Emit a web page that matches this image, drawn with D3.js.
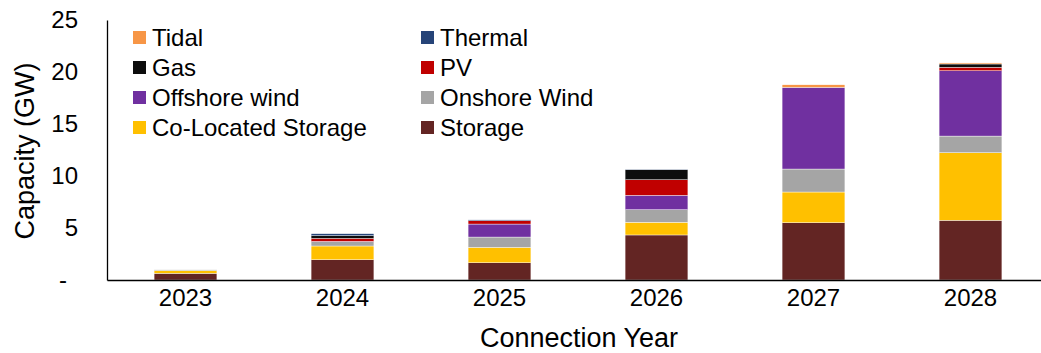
<!DOCTYPE html>
<html>
<head>
<meta charset="utf-8">
<script src="https://cdn.jsdelivr.net/npm/d3@7"></script>
<style>
  html, body { margin: 0; padding: 0; background: #fff; }
  svg { display: block; font-family: "Liberation Sans", Arial, sans-serif; }
</style>
</head>
<body>
<svg id="chart" width="1041" height="353"></svg>
<script>
// Connection years (x categories)
const years = ["2023", "2024", "2025", "2026", "2027", "2028"];

// Capacity by technology, GW per connection year (stacked bottom to top)
const storage        = [0.64, 1.95, 1.66, 4.33, 5.51, 5.74];
const coLocated      = [0.27, 1.32, 1.48, 1.22, 2.95, 6.50];
const onshoreWind    = [0.07, 0.41, 0.99, 1.21, 2.21, 1.60];
const offshoreWind   = [0.00, 0.03, 1.25, 1.38, 7.85, 6.28];
const pv             = [0.00, 0.29, 0.32, 1.50, 0.00, 0.33];
const gas            = [0.00, 0.26, 0.00, 0.96, 0.00, 0.32];
const thermal        = [0.00, 0.19, 0.08, 0.03, 0.00, 0.00];
const tidal          = [0.00, 0.00, 0.00, 0.00, 0.25, 0.10];

// Y-axis tick values and their labels (zero shown as a dash)
const yTicks = [0, 5, 10, 15, 20, 25];
const yTickLabels = ["-", "5", "10", "15", "20", "25"];

// Series in stacking order
const series = [
  { key: "Storage",            values: storage,      color: "#632523" },
  { key: "Co-Located Storage", values: coLocated,    color: "#FFC000" },
  { key: "Onshore Wind",       values: onshoreWind,  color: "#A5A5A5" },
  { key: "Offshore wind",      values: offshoreWind, color: "#7030A0" },
  { key: "PV",                 values: pv,           color: "#C00000" },
  { key: "Gas",                values: gas,          color: "#0D0D0D" },
  { key: "Thermal",            values: thermal,      color: "#264478" },
  { key: "Tidal",              values: tidal,        color: "#F79646" }
];

// Legend layout order (two columns, row by row)
const legendOrder = ["Tidal", "Thermal", "Gas", "PV", "Offshore wind", "Onshore Wind", "Co-Located Storage", "Storage"];

const svg = d3.select("#chart");
const plot = { left: 107, right: 1049, top: 20, bottom: 280 };

const rows = years.map((y, i) => {
  const r = { year: y };
  series.forEach(s => { r[s.key] = s.values[i]; });
  return r;
});

const stack = d3.stack().keys(series.map(s => s.key));
const stacked = stack(rows);
const colorOf = new Map(series.map(s => [s.key, s.color]));

const x = d3.scaleBand()
  .domain(years)
  .range([plot.left, plot.right])
  .paddingInner(0.6)
  .paddingOuter(0.3);

const y = d3.scaleLinear()
  .domain([0, 25])
  .range([plot.bottom, plot.top]);

// Stacked bars
svg.append("g")
  .selectAll("g")
  .data(stacked)
  .join("g")
  .attr("fill", d => colorOf.get(d.key))
  .selectAll("rect")
  .data(d => d)
  .join("rect")
  .attr("x", d => x(d.data.year))
  .attr("width", x.bandwidth())
  .attr("y", d => y(d[1]))
  .attr("height", d => Math.max(0, y(d[0]) - y(d[1])))
  .attr("stroke", "#ffffff")
  .attr("stroke-width", 0.4);

// Y axis
const yAxis = svg.append("g")
  .attr("transform", `translate(${plot.left},0)`)
  .call(d3.axisLeft(y).tickValues(yTicks).tickSize(0).tickPadding(29)
    .tickFormat((d, i) => yTickLabels[i]));
yAxis.select(".domain").attr("stroke", "#000").attr("stroke-width", 1.3);
yAxis.selectAll("text")
  .attr("font-size", 24)
  .attr("fill", "#000")
  .attr("font-family", "'Liberation Sans', Arial, sans-serif")
  .attr("dx", (d, i) => yTickLabels[i] === "-" ? -11 : 0);

// X axis
const xAxis = svg.append("g")
  .attr("transform", `translate(0,${plot.bottom})`)
  .call(d3.axisBottom(x).tickSize(0).tickPadding(9));
xAxis.select(".domain").attr("stroke", "#000").attr("stroke-width", 1.3);
xAxis.selectAll("text")
  .attr("font-size", 24)
  .attr("fill", "#000")
  .attr("font-family", "'Liberation Sans', Arial, sans-serif");

// Axis titles
svg.append("text")
  .attr("transform", `translate(34,${(plot.top + plot.bottom) / 2 + 1}) rotate(-90)`)
  .attr("text-anchor", "middle")
  .attr("font-size", 27)
  .attr("fill", "#000")
  .text("Capacity (GW)");

svg.append("text")
  .attr("x", 579)
  .attr("y", 347)
  .attr("text-anchor", "middle")
  .attr("font-size", 27)
  .attr("fill", "#000")
  .text("Connection Year");

// Legend
const legend = svg.append("g");
const colX = [133, 421];
legendOrder.forEach((key, i) => {
  const cx = colX[i % 2];
  const cy = 37.5 + Math.floor(i / 2) * 30;
  const g = legend.append("g").attr("transform", `translate(${cx},${cy})`);
  g.append("rect")
    .attr("x", 0).attr("y", -6.5)
    .attr("width", 13).attr("height", 13)
    .attr("fill", colorOf.get(key));
  g.append("text")
    .attr("x", 19).attr("y", 0)
    .attr("dy", "0.36em")
    .attr("font-size", 24)
    .attr("fill", "#000")
    .text(key);
});
</script>
</body>
</html>
